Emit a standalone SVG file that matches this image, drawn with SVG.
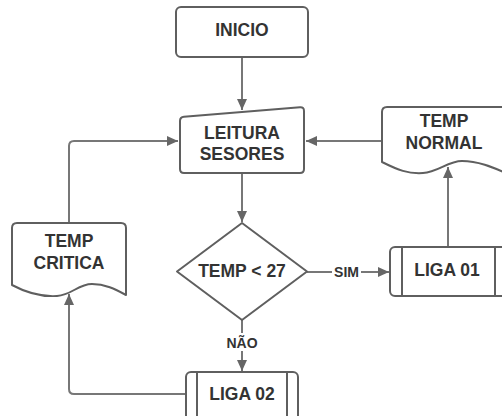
<svg xmlns="http://www.w3.org/2000/svg" width="502" height="416" viewBox="0 0 502 416">
<style>
.s{fill:#fff;stroke:#5f5f5f;stroke-width:2;stroke-linejoin:round}
.t{font-family:"Liberation Sans",Arial,sans-serif;font-weight:bold;font-size:17.5px;fill:#333;text-anchor:middle}
.l{font-family:"Liberation Sans",Arial,sans-serif;font-weight:bold;font-size:14px;fill:#333;text-anchor:middle}
.c{fill:none;stroke:#777;stroke-width:2}
.bg{fill:#fff;stroke:none}
</style>
<defs>
<marker id="a" markerUnits="userSpaceOnUse" markerWidth="12" markerHeight="10" refX="11" refY="5" orient="auto">
<path d="M0,0 L11,5 L0,10 Z" fill="#666"/>
</marker>
</defs>
<rect width="502" height="416" fill="#fff"/>
<g id="connectors">
<path class="c" d="M242,57 V110" marker-end="url(#a)"/>
<path class="c" d="M382,141 H306" marker-end="url(#a)"/>
<path class="c" d="M69,223 V146 Q69,141 74,141 H178" marker-end="url(#a)"/>
<path class="c" d="M242,173 V222" marker-end="url(#a)"/>
<path class="c" d="M307,272 H389" marker-end="url(#a)"/>
<path class="c" d="M242,320 V371" marker-end="url(#a)"/>
<path class="c" d="M448,247 V167" marker-end="url(#a)"/>
<path class="c" d="M186,394 H74 Q69,394 69,389 V294" marker-end="url(#a)"/>
<rect class="bg" x="332" y="263" width="29" height="16"/>
<text class="l" x="346.5" y="277">SIM</text>
<rect class="bg" x="224" y="333" width="36" height="18"/>
<text class="l" x="242" y="348">NÃO</text>
</g>
<g id="inicio">
<rect class="s" x="176" y="7" width="132" height="50" rx="5"/>
<text class="t" x="242" y="36">INICIO</text>
</g>
<g id="leitura">
<path class="s" d="M180,121 Q180,117 184,116.7 L300,107.3 Q304,107 304,111 V169 Q304,173 300,173 H184 Q180,173 180,169 Z"/>
<text class="t" x="242" y="138.5">LEITURA</text>
<text class="t" x="242" y="160">SESORES</text>
</g>
<g id="temp-normal">
<path class="s" d="M382,162 V112 Q382,107 387,107 H512 V175 L506,173 C492,167 478,161 462,161 C448,161 438,172 423,173 C408,174 398,170 382,162 Z"/>
<text class="t" x="444" y="127">TEMP</text>
<text class="t" x="444" y="148.5">NORMAL</text>
</g>
<g id="temp-critica">
<path class="s" d="M12,285 V228 Q12,223 17,223 H121 Q126,223 126,228 V295 C115,289 105,284 92,284 C78,284 72,295 57,296 C40,297 25,292 12,285 Z"/>
<text class="t" x="69" y="247">TEMP</text>
<text class="t" x="69" y="269">CRITICA</text>
</g>
<g id="decisao">
<path class="s" d="M242,223 L307,271.5 L242,320 L177,271.5 Z"/>
<text class="t" x="242" y="277">TEMP &lt; 27</text>
</g>
<g id="liga01">
<rect class="s" x="390" y="247" width="117" height="49" rx="5"/>
<path class="s" d="M402,247 V296 M495,247 V296"/>
<text class="t" x="447" y="276">LIGA 01</text>
</g>
<g id="liga02">
<rect class="s" x="186" y="372" width="112" height="50" rx="5"/>
<path class="s" d="M197,372 V422 M287,372 V422"/>
<text class="t" x="242" y="400">LIGA 02</text>
</g>
</svg>
